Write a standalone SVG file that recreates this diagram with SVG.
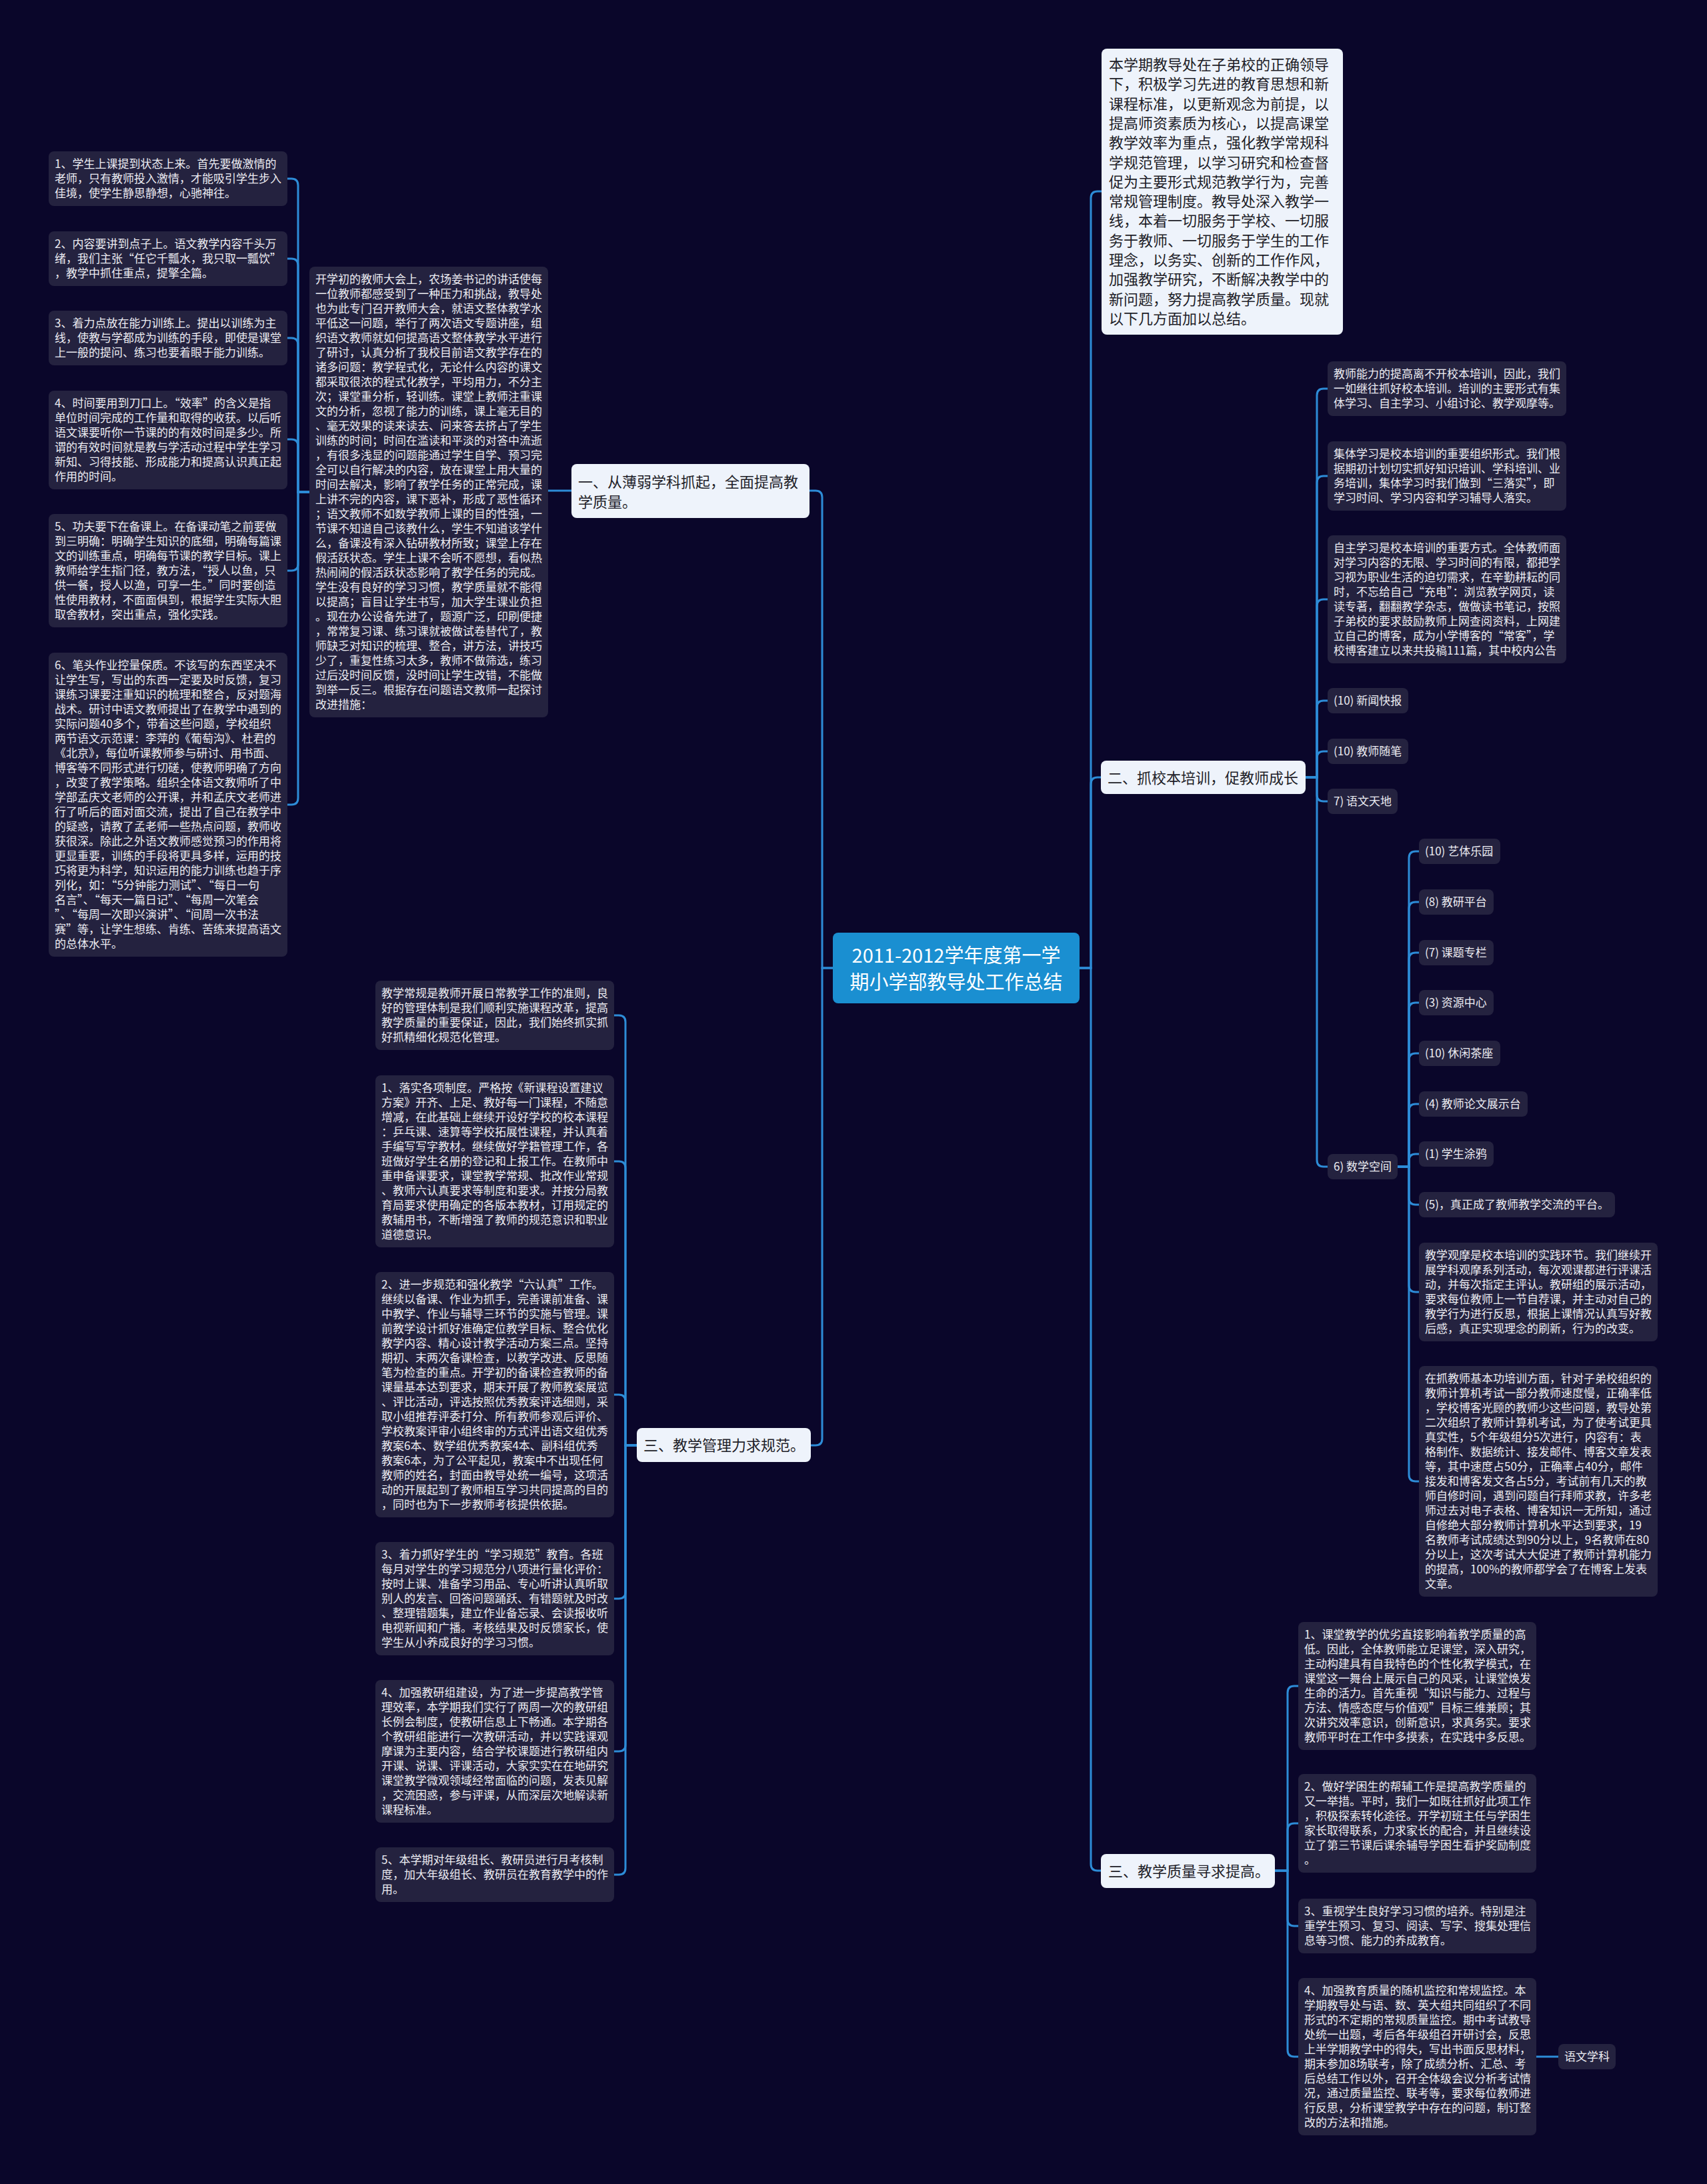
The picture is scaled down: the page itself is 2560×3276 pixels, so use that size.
<svg xmlns="http://www.w3.org/2000/svg" width="2560" height="3276" viewBox="0 0 2560 3276">
<style>
text{font-family:"Noto Sans CJK SC","Noto Sans",sans-serif;}
.leaf{fill:#24223f;}
.lt{font-size:17px;fill:#ececf2;}
.br{fill:#eef3fb;}
.bt{font-size:22px;fill:#1e1e28;}
.root{fill:#1a8fd1;}
.rt{font-size:29px;fill:#ffffff;text-anchor:middle;}
.conn path{fill:none;stroke:#2d8cd7;stroke-width:3;}
</style>
<rect width="2560" height="3276" fill="#0a062a"/>
<g class="conn">
<path d="M1619,1452H1636V297Q1636,287 1646,287H1652"/>
<path d="M1619,1452H1636V1176Q1636,1166 1646,1166H1651"/>
<path d="M1619,1452H1636V2796Q1636,2806 1646,2806H1651"/>
<path d="M1249,1452H1233V746Q1233,736 1223,736H1214"/>
<path d="M1249,1452H1233V2158Q1233,2168 1223,2168H1216"/>
<path d="M857,736H822"/>
<path d="M464,738H447V278Q447,268 437,268H431"/>
<path d="M464,738H447V398Q447,388 437,388H431"/>
<path d="M464,738H447V517Q447,507 437,507H431"/>
<path d="M464,738H447V669Q447,659 437,659H431"/>
<path d="M464,738H447V846Q447,856 437,856H431"/>
<path d="M464,738H447V1197Q447,1207 437,1207H431"/>
<path d="M955,2168H938V1533Q938,1523 928,1523H921"/>
<path d="M955,2168H938V1752Q938,1742 928,1742H921"/>
<path d="M955,2168H938V2102Q938,2092 928,2092H921"/>
<path d="M955,2168H938V2388Q938,2398 928,2398H921"/>
<path d="M955,2168H938V2617Q938,2627 928,2627H921"/>
<path d="M955,2168H938V2802Q938,2812 928,2812H921"/>
<path d="M1958,1166H1975V593Q1975,583 1985,583H1991"/>
<path d="M1958,1166H1975V724Q1975,714 1985,714H1991"/>
<path d="M1958,1166H1975V909Q1975,899 1985,899H1991"/>
<path d="M1958,1166H1975V1061Q1975,1051 1985,1051H1991"/>
<path d="M1958,1166H1975V1137Q1975,1127 1985,1127H1991"/>
<path d="M1958,1166H1975V1192Q1975,1202 1985,1202H1991"/>
<path d="M1958,1166H1975V1740Q1975,1750 1985,1750H1991"/>
<path d="M2096,1750H2113V1287Q2113,1277 2123,1277H2128"/>
<path d="M2096,1750H2113V1363Q2113,1353 2123,1353H2128"/>
<path d="M2096,1750H2113V1439Q2113,1429 2123,1429H2128"/>
<path d="M2096,1750H2113V1514Q2113,1504 2123,1504H2128"/>
<path d="M2096,1750H2113V1590Q2113,1580 2123,1580H2128"/>
<path d="M2096,1750H2113V1666Q2113,1656 2123,1656H2128"/>
<path d="M2096,1750H2113V1741Q2113,1731 2123,1731H2128"/>
<path d="M2096,1750H2113V1797Q2113,1807 2123,1807H2128"/>
<path d="M2096,1750H2113V1928Q2113,1938 2123,1938H2128"/>
<path d="M2096,1750H2113V2212Q2113,2222 2123,2222H2128"/>
<path d="M1912,2806H1931V2539Q1931,2529 1941,2529H1947"/>
<path d="M1912,2806H1931V2745Q1931,2735 1941,2735H1947"/>
<path d="M1912,2806H1931V2879Q1931,2889 1941,2889H1947"/>
<path d="M1912,2806H1931V3075Q1931,3085 1941,3085H1947"/>
<path d="M2304,3085H2337"/>
</g>

<g id="root">
<rect class="root" x="1249" y="1399" width="370" height="106" rx="8"/>
<text class="rt"><tspan x="1434" y="1444">2011-2012学年度第一学</tspan><tspan x="1434" y="1484">期小学部教导处工作总结</tspan></text>
</g>

<g id="intro">
<rect class="br" x="1652" y="73" width="362" height="429" rx="8"/>
<text class="bt">
<tspan x="1663" y="105">本学期教导处在子弟校的正确领导</tspan>
<tspan x="1663" y="134">下，积极学习先进的教育思想和新</tspan>
<tspan x="1663" y="164">课程标准，以更新观念为前提，以</tspan>
<tspan x="1663" y="193">提高师资素质为核心，以提高课堂</tspan>
<tspan x="1663" y="222">教学效率为重点，强化教学常规科</tspan>
<tspan x="1663" y="252">学规范管理，以学习研究和检查督</tspan>
<tspan x="1663" y="281">促为主要形式规范教学行为，完善</tspan>
<tspan x="1663" y="310">常规管理制度。教导处深入教学一</tspan>
<tspan x="1663" y="339">线，本着一切服务于学校、一切服</tspan>
<tspan x="1663" y="369">务于教师、一切服务于学生的工作</tspan>
<tspan x="1663" y="398">理念，以务实、创新的工作作风，</tspan>
<tspan x="1663" y="427">加强教学研究，不断解决教学中的</tspan>
<tspan x="1663" y="457">新问题，努力提高教学质量。现就</tspan>
<tspan x="1663" y="486">以下几方面加以总结。</tspan>
</text>
</g>

<g id="branch1">
<rect class="br" x="857" y="696" width="357" height="81" rx="8"/>
<text class="bt"><tspan x="867" y="731">一、从薄弱学科抓起，全面提高教</tspan><tspan x="867" y="761">学质量。</tspan></text>
</g>

<g id="b1-mid">
<rect class="leaf" x="464" y="400" width="358" height="676" rx="8"/>
<text class="lt">
<tspan x="473" y="425">开学初的教师大会上，农场姜书记的讲话使每</tspan>
<tspan x="473" y="447">一位教师都感受到了一种压力和挑战，教导处</tspan>
<tspan x="473" y="469">也为此专门召开教师大会，就语文整体教学水</tspan>
<tspan x="473" y="491">平低这一问题，举行了两次语文专题讲座，组</tspan>
<tspan x="473" y="513">织语文教师就如何提高语文整体教学水平进行</tspan>
<tspan x="473" y="535">了研讨，认真分析了我校目前语文教学存在的</tspan>
<tspan x="473" y="557">诸多问题：教学程式化，无论什么内容的课文</tspan>
<tspan x="473" y="579">都采取很浓的程式化教学，平均用力，不分主</tspan>
<tspan x="473" y="601">次；课堂重分析，轻训练。课堂上教师注重课</tspan>
<tspan x="473" y="623">文的分析，忽视了能力的训练，课上毫无目的</tspan>
<tspan x="473" y="645">、毫无效果的读来读去、问来答去挤占了学生</tspan>
<tspan x="473" y="667">训练的时间；时间在滥读和平淡的对答中流逝</tspan>
<tspan x="473" y="689">，有很多浅显的问题能通过学生自学、预习完</tspan>
<tspan x="473" y="711">全可以自行解决的内容，放在课堂上用大量的</tspan>
<tspan x="473" y="733">时间去解决，影响了教学任务的正常完成，课</tspan>
<tspan x="473" y="755">上讲不完的内容，课下恶补，形成了恶性循环</tspan>
<tspan x="473" y="777">；语文教师不如数学教师上课的目的性强，一</tspan>
<tspan x="473" y="799">节课不知道自己该教什么，学生不知道该学什</tspan>
<tspan x="473" y="821">么，备课没有深入钻研教材所致；课堂上存在</tspan>
<tspan x="473" y="843">假活跃状态。学生上课不会听不愿想，看似热</tspan>
<tspan x="473" y="865">热闹闹的假活跃状态影响了教学任务的完成。</tspan>
<tspan x="473" y="887">学生没有良好的学习习惯，教学质量就不能得</tspan>
<tspan x="473" y="909">以提高；盲目让学生书写，加大学生课业负担</tspan>
<tspan x="473" y="931">。现在办公设备先进了，题源广泛，印刷便捷</tspan>
<tspan x="473" y="953">，常常复习课、练习课就被做试卷替代了，教</tspan>
<tspan x="473" y="975">师缺乏对知识的梳理、整合，讲方法，讲技巧</tspan>
<tspan x="473" y="997">少了，重复性练习太多，教师不做筛选，练习</tspan>
<tspan x="473" y="1019">过后没时间反馈，没时间让学生改错，不能做</tspan>
<tspan x="473" y="1041">到举一反三。根据存在问题语文教师一起探讨</tspan>
<tspan x="473" y="1063">改进措施：</tspan>
</text>
</g>

<g id="l1">
<rect class="leaf" x="73" y="227" width="358" height="82" rx="8"/>
<text class="lt"><tspan x="82" y="252">1、学生上课提到状态上来。首先要做激情的</tspan><tspan x="82" y="274">老师，只有教师投入激情，才能吸引学生步入</tspan><tspan x="82" y="296">佳境，使学生静思静想，心驰神往。</tspan></text>
</g>
<g id="l2">
<rect class="leaf" x="73" y="347" width="358" height="82" rx="8"/>
<text class="lt"><tspan x="82" y="372">2、内容要讲到点子上。语文教学内容千头万</tspan><tspan x="82" y="394">绪，我们主张“任它千瓢水，我只取一瓢饮”</tspan><tspan x="82" y="416">，教学中抓住重点，提擎全篇。</tspan></text>
</g>
<g id="l3">
<rect class="leaf" x="73" y="466" width="358" height="82" rx="8"/>
<text class="lt"><tspan x="82" y="491">3、着力点放在能力训练上。提出以训练为主</tspan><tspan x="82" y="513">线，使教与学都成为训练的手段，即使是课堂</tspan><tspan x="82" y="535">上一般的提问、练习也要着眼于能力训练。</tspan></text>
</g>
<g id="l4">
<rect class="leaf" x="73" y="586" width="358" height="148" rx="8"/>
<text class="lt"><tspan x="82" y="611">4、时间要用到刀口上。“效率”的含义是指</tspan><tspan x="82" y="633">单位时间完成的工作量和取得的收获。以后听</tspan><tspan x="82" y="655">语文课要听你一节课的的有效时间是多少。所</tspan><tspan x="82" y="677">谓的有效时间就是教与学活动过程中学生学习</tspan><tspan x="82" y="699">新知、习得技能、形成能力和提高认识真正起</tspan><tspan x="82" y="721">作用的时间。</tspan></text>
</g>
<g id="l5">
<rect class="leaf" x="73" y="771" width="358" height="170" rx="8"/>
<text class="lt"><tspan x="82" y="796">5、功夫要下在备课上。在备课动笔之前要做</tspan><tspan x="82" y="818">到三明确：明确学生知识的底细，明确每篇课</tspan><tspan x="82" y="840">文的训练重点，明确每节课的教学目标。课上</tspan><tspan x="82" y="862">教师给学生指门径，教方法，“授人以鱼，只</tspan><tspan x="82" y="884">供一餐，授人以渔，可享一生。”同时要创造</tspan><tspan x="82" y="906">性使用教材，不面面俱到，根据学生实际大胆</tspan><tspan x="82" y="928">取舍教材，突出重点，强化实践。</tspan></text>
</g>
<g id="l6">
<rect class="leaf" x="73" y="979" width="358" height="456" rx="8"/>
<text class="lt">
<tspan x="82" y="1004">6、笔头作业控量保质。不该写的东西坚决不</tspan>
<tspan x="82" y="1026">让学生写，写出的东西一定要及时反馈，复习</tspan>
<tspan x="82" y="1048">课练习课要注重知识的梳理和整合，反对题海</tspan>
<tspan x="82" y="1070">战术。研讨中语文教师提出了在教学中遇到的</tspan>
<tspan x="82" y="1092">实际问题40多个，带着这些问题，学校组织</tspan>
<tspan x="82" y="1114">两节语文示范课：李萍的《葡萄沟》、杜君的</tspan>
<tspan x="82" y="1136">《北京》，每位听课教师参与研讨、用书面、</tspan>
<tspan x="82" y="1158">博客等不同形式进行切磋，使教师明确了方向</tspan>
<tspan x="82" y="1180">，改变了教学策略。组织全体语文教师听了中</tspan>
<tspan x="82" y="1202">学部孟庆文老师的公开课，并和孟庆文老师进</tspan>
<tspan x="82" y="1224">行了听后的面对面交流，提出了自己在教学中</tspan>
<tspan x="82" y="1246">的疑惑，请教了孟老师一些热点问题，教师收</tspan>
<tspan x="82" y="1268">获很深。除此之外语文教师感觉预习的作用将</tspan>
<tspan x="82" y="1290">更显重要，训练的手段将更具多样，运用的技</tspan>
<tspan x="82" y="1312">巧将更为科学，知识运用的能力训练也趋于序</tspan>
<tspan x="82" y="1334">列化，如：“5分钟能力测试”、“每日一句</tspan>
<tspan x="82" y="1356">名言”、“每天一篇日记”、“每周一次笔会</tspan>
<tspan x="82" y="1378">”、“每周一次即兴演讲”、“间周一次书法</tspan>
<tspan x="82" y="1400">赛”等，让学生想练、肯练、苦练来提高语文</tspan>
<tspan x="82" y="1422">的总体水平。</tspan>
</text>
</g>

<g id="branch3l">
<rect class="br" x="955" y="2142" width="261" height="51" rx="8"/>
<text class="bt"><tspan x="965" y="2176">三、教学管理力求规范。</tspan></text>
</g>
<g id="m0">
<rect class="leaf" x="563" y="1471" width="358" height="104" rx="8"/>
<text class="lt"><tspan x="572" y="1496">教学常规是教师开展日常教学工作的准则，良</tspan><tspan x="572" y="1518">好的管理体制是我们顺利实施课程改革，提高</tspan><tspan x="572" y="1540">教学质量的重要保证，因此，我们始终抓实抓</tspan><tspan x="572" y="1562">好抓精细化规范化管理。</tspan></text>
</g>
<g id="m1">
<rect class="leaf" x="563" y="1613" width="358" height="258" rx="8"/>
<text class="lt">
<tspan x="572" y="1638">1、落实各项制度。严格按《新课程设置建议</tspan>
<tspan x="572" y="1660">方案》开齐、上足、教好每一门课程，不随意</tspan>
<tspan x="572" y="1682">增减，在此基础上继续开设好学校的校本课程</tspan>
<tspan x="572" y="1704">：乒乓课、速算等学校拓展性课程，并认真着</tspan>
<tspan x="572" y="1726">手编写写字教材。继续做好学籍管理工作，各</tspan>
<tspan x="572" y="1748">班做好学生名册的登记和上报工作。在教师中</tspan>
<tspan x="572" y="1770">重申备课要求，课堂教学常规、批改作业常规</tspan>
<tspan x="572" y="1792">、教师六认真要求等制度和要求。并按分局教</tspan>
<tspan x="572" y="1814">育局要求使用确定的各版本教材，订用规定的</tspan>
<tspan x="572" y="1836">教辅用书，不断增强了教师的规范意识和职业</tspan>
<tspan x="572" y="1858">道德意识。</tspan>
</text>
</g>
<g id="m2">
<rect class="leaf" x="563" y="1908" width="358" height="368" rx="8"/>
<text class="lt">
<tspan x="572" y="1933">2、进一步规范和强化教学“六认真”工作。</tspan>
<tspan x="572" y="1955">继续以备课、作业为抓手，完善课前准备、课</tspan>
<tspan x="572" y="1977">中教学、作业与辅导三环节的实施与管理。课</tspan>
<tspan x="572" y="1999">前教学设计抓好准确定位教学目标、整合优化</tspan>
<tspan x="572" y="2021">教学内容、精心设计教学活动方案三点。坚持</tspan>
<tspan x="572" y="2043">期初、末两次备课检查，以教学改进、反思随</tspan>
<tspan x="572" y="2065">笔为检查的重点。开学初的备课检查教师的备</tspan>
<tspan x="572" y="2087">课量基本达到要求，期末开展了教师教案展览</tspan>
<tspan x="572" y="2109">、评比活动，评选按照优秀教案评选细则，采</tspan>
<tspan x="572" y="2131">取小组推荐评委打分、所有教师参观后评价、</tspan>
<tspan x="572" y="2153">学校教案评审小组终审的方式评出语文组优秀</tspan>
<tspan x="572" y="2175">教案6本、数学组优秀教案4本、副科组优秀</tspan>
<tspan x="572" y="2197">教案6本，为了公平起见，教案中不出现任何</tspan>
<tspan x="572" y="2219">教师的姓名，封面由教导处统一编号，这项活</tspan>
<tspan x="572" y="2241">动的开展起到了教师相互学习共同提高的目的</tspan>
<tspan x="572" y="2263">，同时也为下一步教师考核提供依据。</tspan>
</text>
</g>
<g id="m3">
<rect class="leaf" x="563" y="2313" width="358" height="170" rx="8"/>
<text class="lt">
<tspan x="572" y="2338">3、着力抓好学生的“学习规范”教育。各班</tspan>
<tspan x="572" y="2360">每月对学生的学习规范分八项进行量化评价：</tspan>
<tspan x="572" y="2382">按时上课、准备学习用品、专心听讲认真听取</tspan>
<tspan x="572" y="2404">别人的发言、回答问题踊跃、有错题就及时改</tspan>
<tspan x="572" y="2426">、整理错题集，建立作业备忘录、会读报收听</tspan>
<tspan x="572" y="2448">电视新闻和广播。考核结果及时反馈家长，使</tspan>
<tspan x="572" y="2470">学生从小养成良好的学习习惯。</tspan>
</text>
</g>
<g id="m4">
<rect class="leaf" x="563" y="2520" width="358" height="214" rx="8"/>
<text class="lt">
<tspan x="572" y="2545">4、加强教研组建设，为了进一步提高教学管</tspan>
<tspan x="572" y="2567">理效率，本学期我们实行了两周一次的教研组</tspan>
<tspan x="572" y="2589">长例会制度，使教研信息上下畅通。本学期各</tspan>
<tspan x="572" y="2611">个教研组能进行一次教研活动，并以实践课观</tspan>
<tspan x="572" y="2633">摩课为主要内容，结合学校课题进行教研组内</tspan>
<tspan x="572" y="2655">开课、说课、评课活动，大家实实在在地研究</tspan>
<tspan x="572" y="2677">课堂教学微观领域经常面临的问题，发表见解</tspan>
<tspan x="572" y="2699">，交流困惑，参与评课，从而深层次地解读新</tspan>
<tspan x="572" y="2721">课程标准。</tspan>
</text>
</g>
<g id="m5">
<rect class="leaf" x="563" y="2771" width="358" height="82" rx="8"/>
<text class="lt"><tspan x="572" y="2796">5、本学期对年级组长、教研员进行月考核制</tspan><tspan x="572" y="2818">度，加大年级组长、教研员在教育教学中的作</tspan><tspan x="572" y="2840">用。</tspan></text>
</g>

<g id="branch2">
<rect class="br" x="1651" y="1141" width="307" height="50" rx="8"/>
<text class="bt"><tspan x="1661" y="1175">二、抓校本培训，促教师成长</tspan></text>
</g>
<g id="r1">
<rect class="leaf" x="1991" y="542" width="358" height="82" rx="8"/>
<text class="lt"><tspan x="2000" y="567">教师能力的提高离不开校本培训，因此，我们</tspan><tspan x="2000" y="589">一如继往抓好校本培训。培训的主要形式有集</tspan><tspan x="2000" y="611">体学习、自主学习、小组讨论、教学观摩等。</tspan></text>
</g>
<g id="r2">
<rect class="leaf" x="1991" y="662" width="358" height="104" rx="8"/>
<text class="lt"><tspan x="2000" y="687">集体学习是校本培训的重要组织形式。我们根</tspan><tspan x="2000" y="709">据期初计划切实抓好知识培训、学科培训、业</tspan><tspan x="2000" y="731">务培训，集体学习时我们做到“三落实”，即</tspan><tspan x="2000" y="753">学习时间、学习内容和学习辅导人落实。</tspan></text>
</g>
<g id="r3">
<rect class="leaf" x="1991" y="803" width="358" height="192" rx="8"/>
<text class="lt">
<tspan x="2000" y="828">自主学习是校本培训的重要方式。全体教师面</tspan>
<tspan x="2000" y="850">对学习内容的无限、学习时间的有限，都把学</tspan>
<tspan x="2000" y="872">习视为职业生活的迫切需求，在辛勤耕耘的同</tspan>
<tspan x="2000" y="894">时，不忘给自己“充电”：浏览教学网页，读</tspan>
<tspan x="2000" y="916">读专著，翻翻教学杂志，做做读书笔记，按照</tspan>
<tspan x="2000" y="938">子弟校的要求鼓励教师上网查阅资料，上网建</tspan>
<tspan x="2000" y="960">立自己的博客，成为小学博客的“常客”，学</tspan>
<tspan x="2000" y="982">校博客建立以来共投稿111篇，其中校内公告</tspan>
</text>
</g>
<g id="r4"><rect class="leaf" x="1991" y="1032" width="121" height="38" rx="8"/><text class="lt" x="2000" y="1057">(10) 新闻快报</text></g>
<g id="r5"><rect class="leaf" x="1991" y="1108" width="121" height="38" rx="8"/><text class="lt" x="2000" y="1133">(10) 教师随笔</text></g>
<g id="r6"><rect class="leaf" x="1991" y="1183" width="105" height="38" rx="8"/><text class="lt" x="2000" y="1208">7) 语文天地</text></g>
<g id="r7"><rect class="leaf" x="1991" y="1731" width="105" height="38" rx="8"/><text class="lt" x="2000" y="1756">6) 数学空间</text></g>

<g id="s1"><rect class="leaf" x="2128" y="1258" width="122" height="38" rx="8"/><text class="lt" x="2137" y="1283">(10) 艺体乐园</text></g>
<g id="s2"><rect class="leaf" x="2128" y="1334" width="112" height="38" rx="8"/><text class="lt" x="2137" y="1359">(8) 教研平台</text></g>
<g id="s3"><rect class="leaf" x="2128" y="1410" width="112" height="38" rx="8"/><text class="lt" x="2137" y="1435">(7) 课题专栏</text></g>
<g id="s4"><rect class="leaf" x="2128" y="1485" width="112" height="38" rx="8"/><text class="lt" x="2137" y="1510">(3) 资源中心</text></g>
<g id="s5"><rect class="leaf" x="2128" y="1561" width="122" height="38" rx="8"/><text class="lt" x="2137" y="1586">(10) 休闲茶座</text></g>
<g id="s6"><rect class="leaf" x="2128" y="1637" width="163" height="38" rx="8"/><text class="lt" x="2137" y="1662">(4) 教师论文展示台</text></g>
<g id="s7"><rect class="leaf" x="2128" y="1712" width="112" height="38" rx="8"/><text class="lt" x="2137" y="1737">(1) 学生涂鸦</text></g>
<g id="s8"><rect class="leaf" x="2128" y="1788" width="294" height="38" rx="8"/><text class="lt" x="2137" y="1813">(5)，真正成了教师教学交流的平台。</text></g>
<g id="s9">
<rect class="leaf" x="2128" y="1864" width="358" height="148" rx="8"/>
<text class="lt">
<tspan x="2137" y="1889">教学观摩是校本培训的实践环节。我们继续开</tspan>
<tspan x="2137" y="1911">展学科观摩系列活动，每次观课都进行评课活</tspan>
<tspan x="2137" y="1933">动，并每次指定主评认。教研组的展示活动，</tspan>
<tspan x="2137" y="1955">要求每位教师上一节自荐课，并主动对自己的</tspan>
<tspan x="2137" y="1977">教学行为进行反思，根据上课情况认真写好教</tspan>
<tspan x="2137" y="1999">后感，真正实现理念的刷新，行为的改变。</tspan>
</text>
</g>
<g id="s10">
<rect class="leaf" x="2128" y="2049" width="358" height="346" rx="8"/>
<text class="lt">
<tspan x="2137" y="2074">在抓教师基本功培训方面，针对子弟校组织的</tspan>
<tspan x="2137" y="2096">教师计算机考试一部分教师速度慢，正确率低</tspan>
<tspan x="2137" y="2118">，学校博客光顾的教师少这些问题，教导处第</tspan>
<tspan x="2137" y="2140">二次组织了教师计算机考试，为了使考试更具</tspan>
<tspan x="2137" y="2162">真实性，5个年级组分5次进行，内容有：表</tspan>
<tspan x="2137" y="2184">格制作、数据统计、接发邮件、博客文章发表</tspan>
<tspan x="2137" y="2206">等，其中速度占50分，正确率占40分，邮件</tspan>
<tspan x="2137" y="2228">接发和博客发文各占5分，考试前有几天的教</tspan>
<tspan x="2137" y="2250">师自修时间，遇到问题自行拜师求教，许多老</tspan>
<tspan x="2137" y="2272">师过去对电子表格、博客知识一无所知，通过</tspan>
<tspan x="2137" y="2294">自修绝大部分教师计算机水平达到要求，19</tspan>
<tspan x="2137" y="2316">名教师考试成绩达到90分以上，9名教师在80</tspan>
<tspan x="2137" y="2338">分以上，这次考试大大促进了教师计算机能力</tspan>
<tspan x="2137" y="2360">的提高，100%的教师都学会了在博客上发表</tspan>
<tspan x="2137" y="2382">文章。</tspan>
</text>
</g>

<g id="branch3r">
<rect class="br" x="1651" y="2781" width="261" height="51" rx="8"/>
<text class="bt"><tspan x="1662" y="2815">三、教学质量寻求提高。</tspan></text>
</g>
<g id="q1">
<rect class="leaf" x="1947" y="2433" width="357" height="192" rx="8"/>
<text class="lt">
<tspan x="1956" y="2458">1、课堂教学的优劣直接影响着教学质量的高</tspan>
<tspan x="1956" y="2480">低。因此，全体教师能立足课堂，深入研究，</tspan>
<tspan x="1956" y="2502">主动构建具有自我特色的个性化教学模式，在</tspan>
<tspan x="1956" y="2524">课堂这一舞台上展示自己的风采，让课堂焕发</tspan>
<tspan x="1956" y="2546">生命的活力。首先重视“知识与能力、过程与</tspan>
<tspan x="1956" y="2568">方法、情感态度与价值观”目标三维兼顾；其</tspan>
<tspan x="1956" y="2590">次讲究效率意识，创新意识，求真务实。要求</tspan>
<tspan x="1956" y="2612">教师平时在工作中多摸索，在实践中多反思。</tspan>
</text>
</g>
<g id="q2">
<rect class="leaf" x="1947" y="2661" width="357" height="148" rx="8"/>
<text class="lt">
<tspan x="1956" y="2686">2、做好学困生的帮辅工作是提高教学质量的</tspan>
<tspan x="1956" y="2708">又一举措。平时，我们一如既往抓好此项工作</tspan>
<tspan x="1956" y="2730">，积极探索转化途径。开学初班主任与学困生</tspan>
<tspan x="1956" y="2752">家长取得联系，力求家长的配合，并且继续设</tspan>
<tspan x="1956" y="2774">立了第三节课后课余辅导学困生看护奖励制度</tspan>
<tspan x="1956" y="2796">。</tspan>
</text>
</g>
<g id="q3">
<rect class="leaf" x="1947" y="2848" width="357" height="82" rx="8"/>
<text class="lt"><tspan x="1956" y="2873">3、重视学生良好学习习惯的培养。特别是注</tspan><tspan x="1956" y="2895">重学生预习、复习、阅读、写字、搜集处理信</tspan><tspan x="1956" y="2917">息等习惯、能力的养成教育。</tspan></text>
</g>
<g id="q4">
<rect class="leaf" x="1947" y="2967" width="357" height="236" rx="8"/>
<text class="lt">
<tspan x="1956" y="2992">4、加强教育质量的随机监控和常规监控。本</tspan>
<tspan x="1956" y="3014">学期教导处与语、数、英大组共同组织了不同</tspan>
<tspan x="1956" y="3036">形式的不定期的常规质量监控。期中考试教导</tspan>
<tspan x="1956" y="3058">处统一出题，考后各年级组召开研讨会，反思</tspan>
<tspan x="1956" y="3080">上半学期教学中的得失，写出书面反思材料，</tspan>
<tspan x="1956" y="3102">期末参加8场联考，除了成绩分析、汇总、考</tspan>
<tspan x="1956" y="3124">后总结工作以外，召开全体级会议分析考试情</tspan>
<tspan x="1956" y="3146">况，通过质量监控、联考等，要求每位教师进</tspan>
<tspan x="1956" y="3168">行反思，分析课堂教学中存在的问题，制订整</tspan>
<tspan x="1956" y="3190">改的方法和措施。</tspan>
</text>
</g>
<g id="q5"><rect class="leaf" x="2337" y="3066" width="86" height="38" rx="8"/><text class="lt" x="2346" y="3091">语文学科</text></g>
</svg>
